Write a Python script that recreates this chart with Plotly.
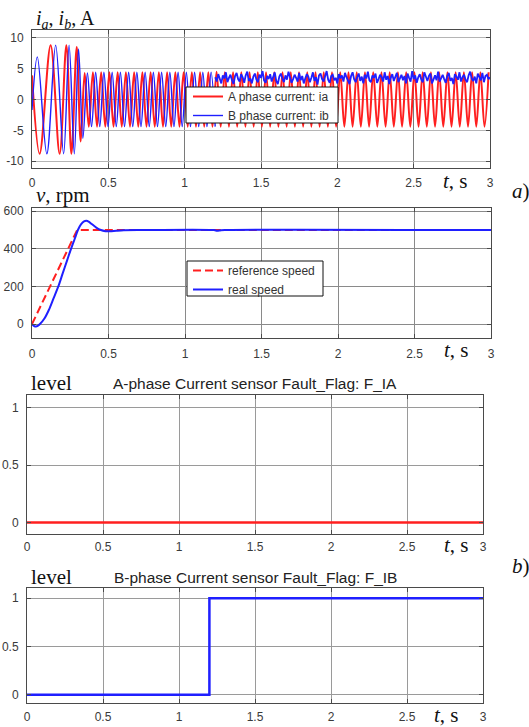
import plotly.graph_objects as go

# ---------------- data ----------------
# a) phase currents: extremum times (s) and values (A)
ia_t = [0.000, 0.050, 0.122, 0.181, 0.225, 0.258, 0.293, 0.319,
        0.345, 0.372, 0.399, 0.426, 0.453, 0.480, 0.507, 0.534, 0.561, 0.588,
        0.615, 0.642, 0.669, 0.696, 0.723, 0.750, 0.777, 0.804, 0.831, 0.858,
        0.885, 0.912, 0.939, 0.966, 0.993, 1.020, 1.047, 1.074, 1.101, 1.128,
        1.155, 1.182, 1.209, 1.236, 1.263, 1.290, 1.317, 1.344, 1.371, 1.398,
        1.425, 1.452, 1.479, 1.506, 1.533, 1.560, 1.587, 1.614, 1.641, 1.668,
        1.695, 1.722, 1.749, 1.776, 1.803, 1.830, 1.857, 1.884, 1.911, 1.938,
        1.965, 1.992, 2.019, 2.046, 2.073, 2.100, 2.127, 2.154, 2.181, 2.208,
        2.235, 2.262, 2.289, 2.316, 2.343, 2.370, 2.397, 2.424, 2.451, 2.478,
        2.505, 2.532, 2.559, 2.586, 2.613, 2.640, 2.667, 2.694, 2.721, 2.748,
        2.775, 2.802, 2.829, 2.856, 2.883, 2.910, 2.937, 2.964, 2.991]
ia_v = [3.9, -8.8, 8.8, -8.8, 8.8, -8.8, 8.5, -6.8,
        4.3, -4.4, 4.4, -4.4, 4.4, -4.4, 4.4, -4.4, 4.4, -4.4,
        4.4, -4.4, 4.4, -4.4, 4.4, -4.4, 4.4, -4.4, 4.4, -4.4,
        4.4, -4.4, 4.4, -4.4, 4.4, -4.4, 4.4, -4.4, 4.4, -4.4,
        4.4, -4.4, 4.5, -4.4, 4.4, -4.4, 4.4, -4.4, 4.4, -4.4,
        4.4, -4.4, 4.4, -4.4, 4.4, -4.4, 4.4, -4.4, 4.4, -4.4,
        4.4, -4.4, 4.4, -4.4, 4.4, -4.4, 4.4, -4.4, 4.4, -4.4,
        4.4, -4.4, 4.4, -4.4, 4.4, -4.4, 4.4, -4.4, 4.4, -4.4,
        4.4, -4.4, 4.4, -4.4, 4.4, -4.4, 4.4, -4.4, 4.4, -4.4,
        4.4, -4.4, 4.4, -4.4, 4.4, -4.4, 4.4, -4.4, 4.4, -4.4,
        4.4, -4.4, 4.4, -4.4, 4.4, -4.4, 4.4, -4.4, 4.4]

ib_t = [0.000, 0.035, 0.097, 0.155, 0.207, 0.243, 0.277, 0.305, 0.333,
        0.363, 0.390, 0.417, 0.444, 0.471, 0.498, 0.525, 0.552, 0.579, 0.606,
        0.633, 0.660, 0.687, 0.714, 0.741, 0.768, 0.795, 0.822, 0.849, 0.876,
        0.903, 0.930, 0.957, 0.984, 1.011, 1.038, 1.065, 1.092, 1.119, 1.146,
        1.173, 1.200]
ib_v = [-1.7, 6.9, -8.8, 8.8, -8.8, 8.8, -8.8, 8.2, -6.3,
        4.3, -4.4, 4.4, -4.4, 4.4, -4.4, 4.4, -4.4, 4.4, -4.4,
        4.4, -4.4, 4.4, -4.4, 4.4, -4.4, 4.4, -4.4, 4.4, -4.4,
        4.4, -4.4, 4.4, -4.4, 4.4, -4.4, 4.4, -4.4, 4.4, -4.4,
        4.4, -4.4]

# B-phase sensor signal after the fault (t >= 1.2 s, one sample per 0.01 s)
ib_fault_t0 = 1.2
ib_fault_dt = 0.01
ib_fault_v = [
    3.6, 2.9, 4.1, 3.2, 2.6, 3.9, 3.4, 4.4, 2.8, 3.5, 4.0, 3.1, 2.5, 3.8, 4.3, 3.3, 2.9, 4.1, 3.6, 2.7,
    3.9, 4.5, 3.0, 3.4, 2.6, 3.7, 4.2, 3.2, 2.8, 4.0, 3.5, 4.6, 3.1, 2.7, 3.8, 3.3, 4.1, 2.9, 3.6, 4.4,
    3.0, 2.5, 3.7, 4.2, 3.4, 2.8, 3.9, 3.2, 4.5, 3.6, 2.7, 3.3, 4.0, 3.5, 2.9, 4.3, 3.1, 3.8, 2.6, 3.4,
    4.1, 3.7, 2.8, 3.5, 4.4, 3.0, 3.6, 2.4, 3.9, 4.2, 3.3, 2.9, 3.7, 4.6, 3.2, 2.7, 3.8, 4.0, 3.1, 3.5,
    2.6, 4.1, 3.4, 3.9, 2.9, 4.3, 3.6, 3.0, 2.5, 3.8, 4.4, 3.3, 2.8, 3.6, 4.2, 3.0, 3.7, 2.6, 4.0, 3.4,
    4.5, 3.1, 2.8, 3.9, 3.5, 4.2, 2.7, 3.3, 4.0, 3.6, 2.9, 4.4, 3.2, 3.8, 2.5, 3.5, 4.1, 3.0, 3.7, 4.3,
    2.8, 3.4, 4.0, 3.1, 3.8, 2.6, 4.2, 3.5, 2.9, 4.6, 3.3, 3.9, 2.7, 3.6, 4.1, 3.2, 2.8, 4.4, 3.5, 3.0,
    3.8, 4.2, 2.6, 3.4, 3.9, 3.1, 4.5, 2.9, 3.6, 4.0, 3.3, 2.7, 3.8, 4.3, 3.0, 3.5, 2.5, 4.1, 3.7, 3.2,
    4.4, 2.9, 3.6, 4.0, 3.2, 2.8, 3.9, 4.5, 3.4, 3.0, 3.7, 2.6, 4.2, 3.5, 3.1, 4.3, 2.8, 3.8, 4.0, 3.3,
    3.6]

# speed (rpm)
speed_ref_t = [0.0, 0.295, 3.0]
speed_ref_v = [0, 500, 500]
speed_t = [0.0, 0.012, 0.026, 0.040, 0.052, 0.080, 0.110, 0.140, 0.172, 0.200,
           0.230, 0.255, 0.280, 0.300, 0.320, 0.340, 0.355, 0.370, 0.390, 0.420,
           0.450, 0.480, 0.510, 0.550, 0.600, 0.700, 1.190, 1.210, 1.230, 1.260, 3.0]
speed_v = [0, -9, -13, -8, 0, 28, 75, 135, 200, 268,
           340, 400, 455, 500, 530, 546, 549, 545, 532, 513,
           500, 494, 493, 496, 499, 500, 500, 496, 498, 500, 500]

# fault flags
flag_t = [0.0, 1.2, 3.0]
flag_a = [0, 0, 0]
flag_b = [0, 1, 1]

x_ticks = [0, 0.5, 1, 1.5, 2, 2.5, 3]
x_ticktext = ["0", "0.5", "1", "1.5", "2", "2.5", "3"]
ia_ticks = [-10, -5, 0, 5, 10]
speed_ticks = [0, 200, 400, 600]
flag_ticks = [0, 0.5, 1]
flag_ticktext = ["0", "0.5", "1"]

# ---------------- figure ----------------
W, H = 529, 727
RED = "#ff1f1f"
BLUE = "#1f1fff"
SANS = "Liberation Sans, Arial, sans-serif"
SERIF = "Liberation Serif, Times New Roman, serif"


def dx(a, b):
    return [a / W, b / W]


def dy(top, bottom):
    return [(H - bottom) / H, (H - top) / H]


fig = go.Figure()

fig.add_trace(go.Scatter(x=ia_t, y=ia_v, mode="lines", line=dict(color=RED, width=2, shape="spline"),
                         name="A phase current: ia", xaxis="x", yaxis="y", legend="legend"))
fig.add_trace(go.Scatter(x=ib_t, y=ib_v, mode="lines", line=dict(color=BLUE, width=1.4, shape="spline"),
                         name="B phase current: ib", xaxis="x", yaxis="y", legend="legend",
                         legendgroup="ib"))
fig.add_trace(go.Scatter(x0=ib_fault_t0, dx=ib_fault_dt, y=ib_fault_v, mode="lines",
                         line=dict(color=BLUE, width=1.8), showlegend=False,
                         xaxis="x", yaxis="y", legendgroup="ib"))

fig.add_trace(go.Scatter(x=speed_ref_t, y=speed_ref_v, mode="lines",
                         line=dict(color=RED, width=2, dash="8px,4px"),
                         name="reference speed", xaxis="x2", yaxis="y2", legend="legend2"))
fig.add_trace(go.Scatter(x=speed_t, y=speed_v, mode="lines",
                         line=dict(color=BLUE, width=2, shape="spline", smoothing=0.8),
                         name="real speed", xaxis="x2", yaxis="y2", legend="legend2"))

fig.add_trace(go.Scatter(x=flag_t, y=flag_a, mode="lines", line=dict(color=RED, width=2.5, shape="hv"),
                         showlegend=False, xaxis="x3", yaxis="y3"))
fig.add_trace(go.Scatter(x=flag_t, y=flag_b, mode="lines", line=dict(color=BLUE, width=2.5, shape="hv"),
                         showlegend=False, xaxis="x4", yaxis="y4"))

base = dict(showline=True, linecolor="#4a4a4a", linewidth=1, mirror="ticks",
            ticks="inside", ticklen=4, tickcolor="#4a4a4a", showgrid=True, zeroline=False,
            tickfont=dict(family=SANS, size=12, color="#3a3a3a"), fixedrange=True,
            automargin=False)


def xax(domain, anchor, grid, standoff):
    return dict(base, domain=domain, anchor=anchor, range=[0, 3], tickvals=x_ticks,
                ticktext=x_ticktext, gridcolor=grid, ticklabelstandoff=standoff)


def yax(domain, anchor, rng, tv, tt, grid):
    return dict(base, domain=domain, anchor=anchor, range=rng, tickvals=tv, ticktext=tt,
                gridcolor=grid, ticklabelstandoff=5)


legend_style = dict(xanchor="left", yanchor="top", bgcolor="rgba(0,0,0,0)", borderwidth=0,
                    font=dict(family=SANS, size=12, color="#333333"), tracegroupgap=0)

fig.update_layout(
    width=W, height=H, autosize=False,
    margin=dict(l=0, r=0, t=0, b=0, autoexpand=False),
    paper_bgcolor="white", plot_bgcolor="white",
    xaxis=xax(dx(32, 490), "y", "#7a7a7a", 4),
    yaxis=yax(dy(30, 168), "x", [-11.1, 11.25], ia_ticks, [str(v) for v in ia_ticks], "#b5b5b5"),
    xaxis2=xax(dx(32, 491), "y2", "#8a8a8a", 5),
    yaxis2=yax(dy(208, 338), "x2", [-74, 617], speed_ticks, [str(v) for v in speed_ticks], "#8a8a8a"),
    xaxis3=xax(dx(27, 483), "y3", "#9a9a9a", 2),
    yaxis3=yax(dy(395, 534), "x3", [-0.1, 1.11], flag_ticks, flag_ticktext, "#9a9a9a"),
    xaxis4=xax(dx(27, 483), "y4", "#9a9a9a", 3),
    yaxis4=yax(dy(588, 703), "x4", [-0.085, 1.105], flag_ticks, flag_ticktext, "#9a9a9a"),
    legend=dict(legend_style, x=188 / W, y=(H - 82) / H),
    legend2=dict(legend_style, x=188 / W, y=(H - 256) / H),
    showlegend=True,
)

# legend frames (white boxes with black outline, as in the reference)
for (x0, y0, x1, y1) in [(186, 87, 338, 123), (187, 261, 323, 296)]:
    fig.add_shape(type="rect", xref="paper", yref="paper", layer="above",
                  x0=x0 / W, x1=x1 / W, y0=(H - y1) / H, y1=(H - y0) / H,
                  fillcolor="white", line=dict(color="#111111", width=1))


def note(text, x, y, size=21, family=SERIF, anchor="left", color="#111111"):
    fig.add_annotation(text=text, x=x / W, y=(H - y) / H, xref="paper", yref="paper",
                       xanchor=anchor, yanchor="middle", showarrow=False,
                       font=dict(family=family, size=size, color=color))


note("<i>i</i><sub><i>a</i></sub>, <i>i</i><sub><i>b</i></sub>, A", 34, 19, size=20)
note("<i>v</i>, rpm", 34, 195)
note("level", 29, 383)
note("level", 29, 577)
note("A-phase Current sensor Fault_Flag: F_IA", 255, 383, size=15.5, family=SANS,
     anchor="center", color="#222222")
note("B-phase Current sensor Fault_Flag: F_IB", 255, 577, size=15.5, family=SANS,
     anchor="center", color="#222222")
note("<i>t</i>, s", 441, 181)
note("<i>t</i>, s", 442, 350)
note("<i>t</i>, s", 442, 545)
note("<i>t</i>, s", 432, 715)
note("<i>a</i>)", 510, 191)
note("<i>b</i>)", 510, 566)

fig.write_html("out.html", config={"displayModeBar": False},
               post_script="document.body.style.margin='0';document.body.style.overflow='hidden';")
